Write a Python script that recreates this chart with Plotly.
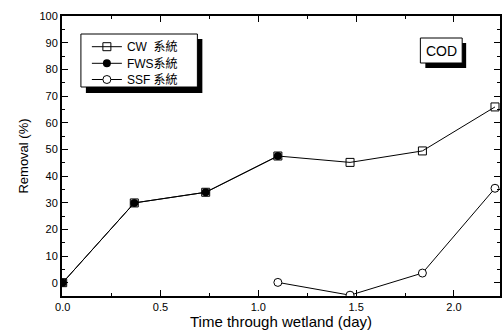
import plotly.graph_objects as go

cw_x = [0.0, 0.366, 0.731, 1.10, 1.469, 1.839, 2.21]
cw_y = [0.0, 29.9, 33.9, 47.5, 45.1, 49.4, 65.9]
fws_x = [0.0, 0.366, 0.731, 1.10]
fws_y = [0.0, 29.9, 33.9, 47.5]
ssf_x = [1.10, 1.469, 1.839, 2.21]
ssf_y = [0.1, -4.7, 3.6, 35.4]
names = ["CW  系統", "FWS系統", "SSF 系統"]

W, H = 502, 336
ml, mr, mt, mb = 62, 0, 16, 40
pw, ph = W - ml - mr, H - mt - mb

def px(x):
    return (x - ml) / pw

def py(y):
    return (H - mb - y) / ph

font = "Liberation Sans, Arial, Noto Sans CJK TC, sans-serif"

fig = go.Figure()
fig.add_trace(go.Scatter(x=cw_x, y=cw_y, name=names[0], mode="lines+markers", legend="legend",
                         line=dict(color="black", width=1),
                         marker=dict(symbol="square-open", size=8, color="black", line=dict(width=1))))
fig.add_trace(go.Scatter(x=fws_x, y=fws_y, name=names[1], mode="lines+markers", legend="legend2",
                         line=dict(color="black", width=1),
                         marker=dict(symbol="circle", size=8, color="black")))
fig.add_trace(go.Scatter(x=ssf_x, y=ssf_y, name=names[2], mode="lines+markers", legend="legend3",
                         line=dict(color="black", width=1),
                         marker=dict(symbol="circle", size=8, color="white", line=dict(color="black", width=1))))

axis_common = dict(showline=True, linecolor="black", linewidth=2, mirror="ticks",
                   ticks="inside", ticklen=6, tickcolor="black", tickwidth=1, showgrid=False,
                   zeroline=False, tickfont=dict(size=11, color="black", family=font))

fig.update_xaxes(range=[(62 - 62.7) / 196.5, (502 - 62.7) / 196.5], tickvals=[0, 0.5, 1.0, 1.5, 2.0],
                 tickformat=".1f",
                 minor=dict(dtick=0.25, ticks="inside", ticklen=3, tickcolor="black"),
                 title=dict(text="Time through wetland (day)", font=dict(size=15, family=font, color="black"), standoff=1),
                 **axis_common)
fig.update_yaxes(range=[-5, 100], tickvals=list(range(0, 101, 10)),
                 minor=dict(dtick=5, ticks="inside", ticklen=3, tickcolor="black"),
                 title=dict(text="Removal (%)", font=dict(size=13, family=font, color="black"), standoff=8),
                 **axis_common)

# legend shadow + box
fig.add_shape(type="rect", xref="paper", yref="paper",
              x0=px(86), x1=px(203), y0=py(93), y1=py(39),
              fillcolor="black", line=dict(width=0), layer="above")
fig.add_shape(type="rect", xref="paper", yref="paper",
              x0=px(81), x1=px(198), y0=py(87), y1=py(34),
              fillcolor="white", line=dict(color="black", width=1), layer="above")
# COD box shadow + box
fig.add_shape(type="rect", xref="paper", yref="paper",
              x0=px(427), x1=px(468), y0=py(68), y1=py(43),
              fillcolor="black", line=dict(width=0), layer="above")
fig.add_shape(type="rect", xref="paper", yref="paper",
              x0=px(422), x1=px(464), y0=py(63), y1=py(38),
              fillcolor="white", line=dict(color="black", width=1), layer="above")
fig.add_annotation(xref="paper", yref="paper", x=px(443), y=py(50.5), text="COD",
                   showarrow=False, font=dict(size=14, family=font, color="black"),
                   xanchor="center", yanchor="middle")

leg_common = dict(xanchor="left", yanchor="middle", bgcolor="rgba(0,0,0,0)", borderwidth=0,
                  font=dict(size=12, family=font, color="black"), itemwidth=30)

fig.update_layout(
    width=W, height=H,
    margin=dict(l=ml, r=mr, t=mt, b=mb),
    paper_bgcolor="white", plot_bgcolor="white",
    font=dict(family=font, color="black"),
    legend=dict(x=px(87), y=py(46.7), **leg_common),
    legend2=dict(x=px(87), y=py(63.3), **leg_common),
    legend3=dict(x=px(87), y=py(79.5), **leg_common),
    showlegend=True,
)

fig.write_html("out.html", config={"displayModeBar": False},
               post_script="document.body.style.margin='0';document.body.style.overflow='hidden';")
